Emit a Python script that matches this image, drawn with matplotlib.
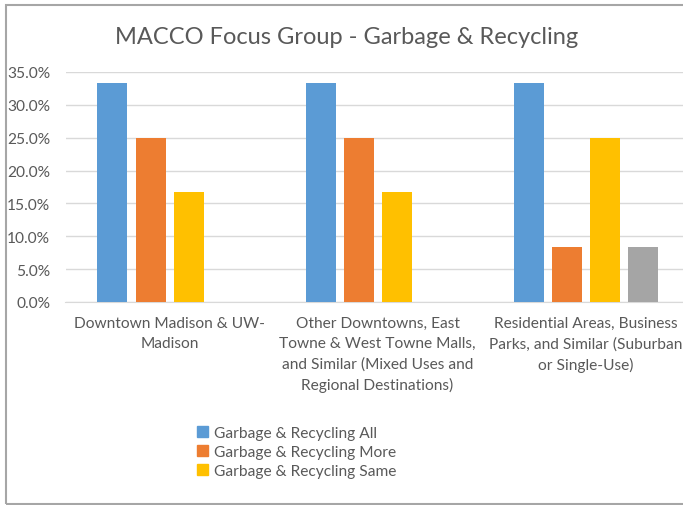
import matplotlib.pyplot as plt
import matplotlib.patches as mpatches
import numpy as np
from matplotlib.ticker import FuncFormatter

categories = ['Downtown Madison & UW-\nMadison',
              'Other Downtowns, East\nTowne & West Towne Malls,\nand Similar (Mixed Uses and\nRegional Destinations)',
              'Residential Areas, Business\nParks, and Similar (Suburban\nor Single-Use)']
all_vals = [33.3, 33.3, 33.3]
more_vals = [25.0, 25.0, 8.3]
same_vals = [16.7, 16.7, 25.0]
fourth_vals = [0.0, 0.0, 8.3]
series_names = ['Garbage & Recycling All', 'Garbage & Recycling More', 'Garbage & Recycling Same']
colors = ['#5B9BD5', '#ED7D31', '#FFC000', '#A5A5A5']

plt.rcParams['font.family'] = ['Lato', 'DejaVu Sans']
txt = '#595959'

W, H = 683, 506
fig = plt.figure(figsize=(W / 100, H / 100), dpi=100)

# outer chart border (right side is cropped in the reference)
fig.add_artist(mpatches.Rectangle((6 / W, 1 - 505 / H), 1.2, (505 - 6) / H,
                                  transform=fig.transFigure, fill=False,
                                  edgecolor='#A6A6A6', linewidth=1.5))

left, right = 65.5, 689.5
top, bottom = 73, 303
ax = fig.add_axes([left / W, 1 - bottom / H, (right - left) / W, (bottom - top) / H])

x = np.arange(len(categories))
slot = 38 / 208
bw = 30 / 208
series = [all_vals, more_vals, same_vals, fourth_vals]
for i, vals in enumerate(series):
    ax.bar(x + (i - 1.5) * slot, vals, width=bw, color=colors[i], zorder=3)

ax.set_xlim(-0.5, 2.5)
ax.set_ylim(0, 35)
ax.set_yticks(np.arange(0, 36, 5))
ax.yaxis.set_major_formatter(FuncFormatter(lambda v, p: f'{v:.1f}%'))
ax.grid(axis='y', color='#D9D9D9', linewidth=1, zorder=0)
for s in ['top', 'right', 'left']:
    ax.spines[s].set_visible(False)
ax.spines['bottom'].set_color('#D9D9D9')
ax.tick_params(axis='y', length=0, labelsize=11.2, labelcolor=txt, pad=11)
ax.tick_params(axis='x', length=0)
ax.set_xticks(x)
ax.set_xticklabels(categories, fontsize=11.2, color=txt, linespacing=1.55)
ax.tick_params(axis='x', pad=10)

fig.text(347 / W, 1 - 37 / H, 'MACCO Focus Group - Garbage & Recycling',
         ha='center', va='center', fontsize=17, color=txt)

handles = [mpatches.Patch(color=colors[i]) for i in range(3)]
fig.legend(handles, series_names, loc='upper left',
           bbox_to_anchor=(183 / W, 1 - 413 / H), frameon=False,
           fontsize=11.2, labelcolor=txt, handlelength=0.7, handleheight=0.7,
           handletextpad=0.4, labelspacing=0.33)

fig.savefig('out.png', dpi=100)
